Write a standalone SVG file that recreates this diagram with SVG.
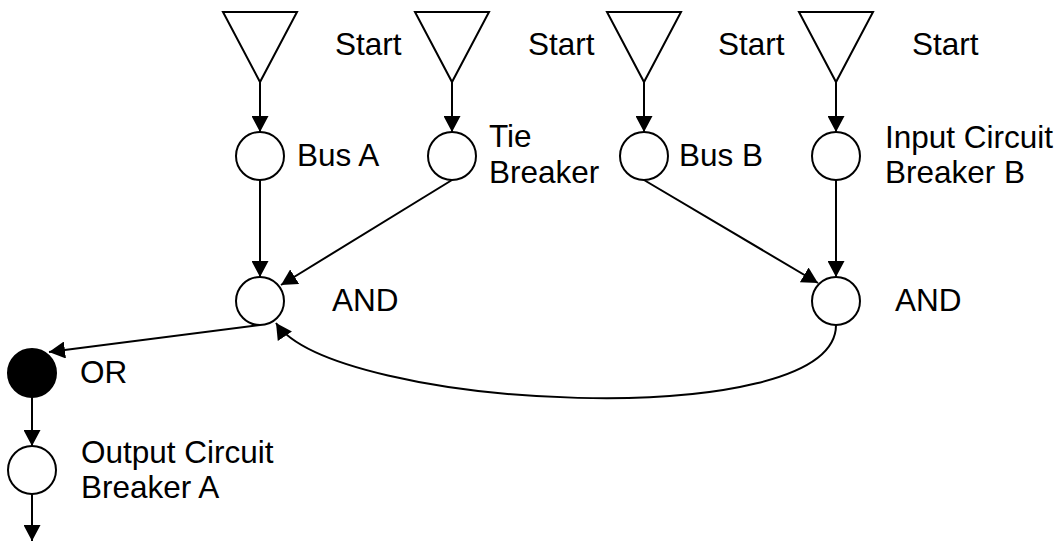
<svg xmlns="http://www.w3.org/2000/svg" width="1060" height="542" viewBox="0 0 1060 542">
  <style>
    .lbl { font-family: "Liberation Sans", Arial, sans-serif; font-size: 31.5px; fill: #000; }
    .node { fill: #fff; stroke: #000; stroke-width: 2; }
    .filled { fill: #000; stroke: #000; stroke-width: 2; }
    .src { fill: #fff; stroke: #000; stroke-width: 2; stroke-linejoin: miter; }
    .edge { fill: none; stroke: #000; stroke-width: 2; marker-end: url(#arrow); }
  </style>
  <defs>
    <marker id="arrow" markerUnits="userSpaceOnUse" markerWidth="17" markerHeight="17" refX="16" refY="8.5" orient="auto">
      <path d="M0,0 L16,8.5 L0,17 z" fill="#000"/>
    </marker>
  </defs>
  <rect width="1060" height="542" fill="#fff"/>

  <!-- connectors -->
  <g id="connectors">
    <line class="edge" x1="260" y1="82" x2="260" y2="132"/>
    <line class="edge" x1="452" y1="82" x2="452" y2="132"/>
    <line class="edge" x1="644" y1="82" x2="644" y2="132"/>
    <line class="edge" x1="836" y1="82" x2="836" y2="132"/>
    <line class="edge" x1="260" y1="180" x2="260" y2="277"/>
    <line class="edge" x1="452" y1="180" x2="281" y2="285"/>
    <line class="edge" x1="644" y1="180" x2="818" y2="283"/>
    <line class="edge" x1="836" y1="180" x2="836" y2="277"/>
    <path class="edge" d="M836,325 C836,435 334,410 276,323"/>
    <line class="edge" x1="260" y1="325" x2="49" y2="352"/>
    <line class="edge" x1="32" y1="397" x2="32" y2="446"/>
    <line class="edge" x1="32" y1="494" x2="32" y2="541"/>
  </g>

  <!-- start triangles -->
  <g id="start-bus-a"><polygon class="src" points="223,12 297,12 260,82"/><text class="lbl" x="335" y="55">Start</text></g>
  <g id="start-tie"><polygon class="src" points="415,12 489,12 452,82"/><text class="lbl" x="528" y="55">Start</text></g>
  <g id="start-bus-b"><polygon class="src" points="607,12 681,12 644,82"/><text class="lbl" x="718" y="55">Start</text></g>
  <g id="start-icb-b"><polygon class="src" points="799,12 873,12 836,82"/><text class="lbl" x="912" y="55">Start</text></g>

  <!-- components -->
  <g id="bus-a"><circle class="node" cx="260" cy="156" r="24"/><text class="lbl" x="297" y="166">Bus A</text></g>
  <g id="tie-breaker"><circle class="node" cx="452" cy="156" r="24"/><text class="lbl" x="489" y="147">Tie</text><text class="lbl" x="489" y="183">Breaker</text></g>
  <g id="bus-b"><circle class="node" cx="644" cy="156" r="24"/><text class="lbl" x="679" y="166">Bus B</text></g>
  <g id="icb-b"><circle class="node" cx="836" cy="156" r="24"/><text class="lbl" x="885" y="148">Input Circuit</text><text class="lbl" x="885" y="183">Breaker B</text></g>

  <!-- gates -->
  <g id="and-a"><circle class="node" cx="260" cy="301" r="24"/><text class="lbl" x="332" y="311">AND</text></g>
  <g id="and-b"><circle class="node" cx="836" cy="301" r="24"/><text class="lbl" x="895" y="311">AND</text></g>
  <g id="or"><circle class="filled" cx="32" cy="373" r="24"/><text class="lbl" x="80" y="383">OR</text></g>

  <!-- output -->
  <g id="ocb-a"><circle class="node" cx="32" cy="470" r="24"/><text class="lbl" x="81" y="463">Output Circuit</text><text class="lbl" x="81" y="498">Breaker A</text></g>
</svg>
